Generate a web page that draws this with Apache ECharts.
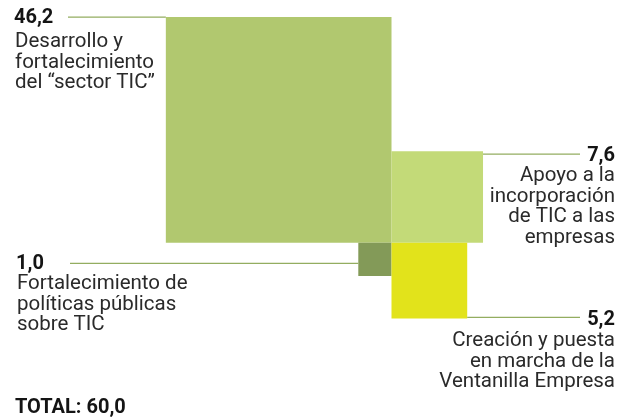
<!DOCTYPE html>
<html>
<head>
<meta charset="utf-8">
<script src="https://cdn.jsdelivr.net/npm/echarts@6/dist/echarts.min.js"></script>
<style>
  html, body {margin: 0; padding: 0; background: #fff;}
  #chart {width: 631px; height: 420px;}
</style>
</head>
<body>
<div id="chart"></div>
<script>
// budget items (values shown as area of each square)
const categories = [
  'Desarrollo y\nfortalecimiento\ndel “sector TIC”',
  'Apoyo a la\nincorporación\nde TIC a las\nempresas',
  'Fortalecimiento de\npolíticas públicas\nsobre TIC',
  'Creación y puesta\nen marcha de la\nVentanilla Empresa'
]
const values = [46.2, 7.6, 1.0, 5.2]
const valueLabels = ['46,2', '7,6', '1,0', '5,2']
const totalLabel = 'TOTAL: 60,0'

// layout: which corner each square grows to, colours, label spots (px)
const layout = [
  {dir: [-1, 1], color: '#b1c86f', edge: 'top', lineTo: 68, off: 0, numX: 14, numY: 18, txtY: 32, align: 'left'},
  {dir: [1, 1], color: '#c3da78', edge: 'top', lineTo: 580, off: 3, numX: 615, numY: 156, txtY: 166, align: 'right'},
  {dir: [-1, -1], color: '#839a58', edge: 'mid', lineTo: 70, off: 4, numX: 16, numY: 264, txtY: 274, align: 'left'},
  {dir: [1, -1], color: '#e2e31b', edge: 'bottom', lineTo: 580, off: -1, numX: 615, numY: 320, txtY: 331, align: 'right'}
]

const W = 631, H = 420
const anchorX = 391.5, anchorY = 242.7
const unit = 33.2 // px per sqrt(value)

const chart = echarts.init(document.getElementById('chart'), null, {renderer: 'canvas'})

const renderItem = (params, api) => {
  const i = params.dataIndex
  const L = layout[i]
  const s = Math.sqrt(api.value(2))
  const p0 = api.coord([api.value(0), api.value(1)])
  const p1 = api.coord([L.dir[0] * s, L.dir[1] * s])
  const x = Math.min(p0[0], p1[0]), y = Math.min(p0[1], p1[1])
  const w = Math.abs(p1[0] - p0[0]), h = Math.abs(p1[1] - p0[1])

  let ly = L.edge === 'top' ? y : L.edge === 'bottom' ? y + h : y + h / 2
  ly += L.off
  const lx = L.dir[0] < 0 ? x : x + w

  return {
    type: 'group',
    children: [
      {type: 'rect', shape: {x, y, width: w, height: h}, style: {fill: L.color}},
      {type: 'line', shape: {x1: lx, y1: ly, x2: L.lineTo, y2: ly},
        style: {stroke: '#93ad60', lineWidth: 1.3}},
      {type: 'text', style: {
        text: valueLabels[i], x: L.numX, y: L.numY, align: L.align, verticalAlign: 'middle',
        fill: '#141414', fontSize: 20, fontWeight: 'bold', fontFamily: 'Roboto'
      }},
      {type: 'text', style: {
        text: categories[i], x: L.numX + (L.align === 'left' ? 1 : 0), y: L.txtY,
        align: L.align, verticalAlign: 'top', lineHeight: 20.5,
        fill: '#2a2a2a', fontSize: 20.5, fontFamily: 'Roboto'
      }}
    ]
  }
}

chart.setOption({
  animation: false,
  grid: {left: 0, right: 0, top: 0, bottom: 0},
  xAxis: {type: 'value', show: false, min: -anchorX / unit, max: (W - anchorX) / unit},
  yAxis: {type: 'value', show: false, min: -(H - anchorY) / unit, max: anchorY / unit},
  graphic: [{
    type: 'text', left: 15, top: 398,
    style: {text: totalLabel, fill: '#141414', fontSize: 20, fontWeight: 'bold', fontFamily: 'Roboto'}
  }],
  series: [{
    type: 'custom',
    renderItem,
    clip: false,
    data: values.map(v => [0, 0, v])
  }]
})
</script>
</body>
</html>
